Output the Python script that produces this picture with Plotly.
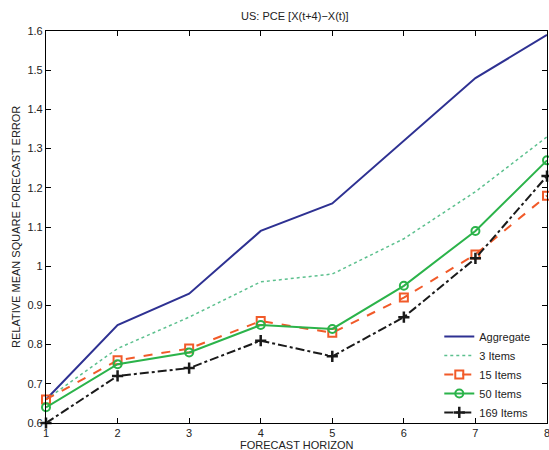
import plotly.graph_objects as go

horizon = [1, 2, 3, 4, 5, 6, 7, 8]
aggregate = [0.66, 0.85, 0.93, 1.09, 1.16, 1.32, 1.48, 1.59]
items3 = [0.66, 0.79, 0.87, 0.96, 0.98, 1.07, 1.19, 1.33]
items15 = [0.66, 0.76, 0.79, 0.86, 0.83, 0.92, 1.03, 1.18]
items50 = [0.64, 0.75, 0.78, 0.85, 0.84, 0.95, 1.09, 1.27]
items169 = [0.60, 0.72, 0.74, 0.81, 0.77, 0.87, 1.02, 1.23]

ytick_vals = [0.6, 0.7, 0.8, 0.9, 1.0, 1.1, 1.2, 1.3, 1.4, 1.5, 1.6]
ytick_text = ["0.6", "0.7", "0.8", "0.9", "1", "1.1", "1.2", "1.3", "1.4", "1.5", "1.6"]

fig = go.Figure()
fig.add_trace(go.Scatter(x=horizon, y=aggregate, name="Aggregate", mode="lines",
                         line=dict(color="#2e3192", width=2), cliponaxis=False))
fig.add_trace(go.Scatter(x=horizon, y=items3, name="3 Items", mode="lines",
                         line=dict(color="#5cc08e", width=1.5, dash="dot"), cliponaxis=False))
fig.add_trace(go.Scatter(x=horizon, y=items15, name="15 Items", mode="lines+markers",
                         line=dict(color="#f15a29", width=2, dash="dash"),
                         marker=dict(symbol="square-open", size=8, color="#f15a29", line=dict(width=2)),
                         cliponaxis=False))
fig.add_trace(go.Scatter(x=horizon, y=items50, name="50 Items", mode="lines+markers",
                         line=dict(color="#2bb34a", width=2),
                         marker=dict(symbol="circle-open", size=8, color="#2bb34a", line=dict(width=2)),
                         cliponaxis=False))
fig.add_trace(go.Scatter(x=horizon, y=items169, name="169 Items", mode="lines+markers",
                         line=dict(color="#1a1a1a", width=2, dash="dashdot"),
                         marker=dict(symbol="cross-thin-open", size=8, color="#1a1a1a", line=dict(width=2.5, color="#1a1a1a")),
                         cliponaxis=False))

axis_common = dict(showline=True, linecolor="black", linewidth=1.2, mirror="ticks",
                   ticks="inside", ticklen=5, tickcolor="black", showgrid=False, zeroline=False,
                   tickfont=dict(size=11, color="#222"), ticklabeloverflow="allow")

fig.update_layout(
    width=549, height=450,
    margin=dict(l=46, r=2, t=31, b=27, autoexpand=False),
    paper_bgcolor="white", plot_bgcolor="white",
    font=dict(family="Liberation Sans, Arial, sans-serif", size=11, color="#222"),
    title=dict(text="US: PCE [X(t+4)−X(t)]", x=0.537, xanchor="center", y=0.965, yanchor="middle",
               font=dict(size=11)),
    xaxis=dict(range=[1, 8], tickvals=horizon, ticklabelstandoff=0, **axis_common),
    yaxis=dict(range=[0.6, 1.6], tickvals=ytick_vals, ticktext=ytick_text, **axis_common),
    legend=dict(x=0.785, y=-0.01, xanchor="left", yanchor="bottom", bgcolor="rgba(255,255,255,0)",
                font=dict(size=11), tracegroupgap=0, itemwidth=30),
    showlegend=True,
    annotations=[
        dict(text="FORECAST HORIZON", xref="paper", yref="paper", x=0.5, y=-0.056,
             xanchor="center", yanchor="middle", showarrow=False, font=dict(size=11)),
        dict(text="RELATIVE MEAN SQUARE FORECAST ERROR", xref="paper", yref="paper", x=-0.06, y=0.5,
             xanchor="center", yanchor="middle", textangle=-90, showarrow=False, font=dict(size=11)),
    ],
)

fig.write_html("out.html", config={"displayModeBar": False},
               post_script="document.body.style.margin='0';document.body.style.overflow='hidden';")
